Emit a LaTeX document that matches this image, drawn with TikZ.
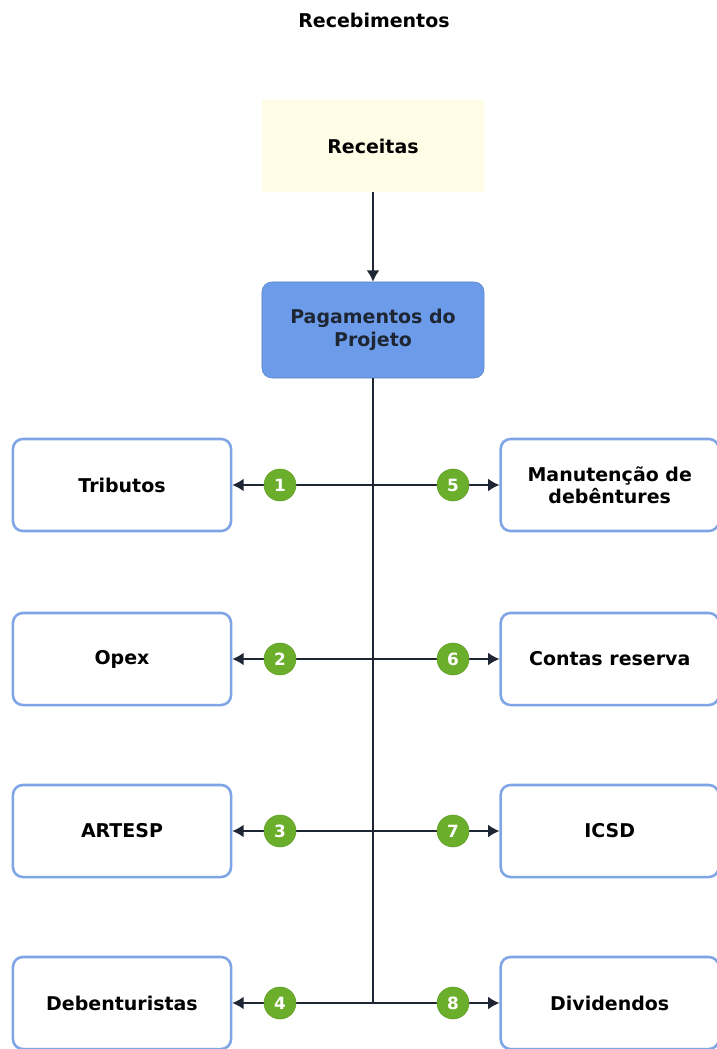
\documentclass[tikz,border=0pt]{standalone}
\usepackage{fontspec}
\setmainfont{DejaVu Sans}
\usepackage{tikz}
\usetikzlibrary{arrows.meta, positioning}
\definecolor{boxblue}{HTML}{7EA5E6}
\definecolor{projblue}{HTML}{6C9BEA}
\definecolor{recyellow}{HTML}{FFFDE6}
\definecolor{linenavy}{HTML}{1E2633}
\definecolor{stepgreen}{HTML}{6BAE2C}
\tikzset{
  outbox/.style={
    draw=boxblue, fill=white, rectangle, rounded corners=7pt,
    line width=1.8pt, minimum width=5.45cm, minimum height=2.3cm,
    align=center, font=\bfseries\fontsize{13.5}{16}\selectfont
  },
  recbox/.style={
    fill=recyellow, rectangle,
    minimum width=5.55cm, minimum height=2.3cm,
    align=center, font=\bfseries\fontsize{13.5}{16}\selectfont
  },
  projbox/.style={
    fill=projblue, draw=projblue!85!black, rectangle, rounded corners=7pt,
    minimum width=5.55cm, minimum height=2.4cm, text=linenavy,
    align=center, font=\bfseries\fontsize{13.5}{16}\selectfont
  },
  numdot/.style={
    circle, fill=stepgreen, draw=stepgreen!90!black, line width=0.4pt,
    minimum size=0.8cm, inner sep=0pt, text=white,
    font=\bfseries\fontsize{12}{13}\selectfont
  },
  flowline/.style={line width=1.1pt, color=linenavy},
  flowarrow/.style={-{Latex[length=8pt,width=9pt]}, line width=1.1pt, color=linenavy}
}

\begin{document}
\begin{tikzpicture}[x=0.025cm,y=-0.025cm]
\useasboundingbox (0,0) rectangle (716,1049);

\node[font=\bfseries\fontsize{13.5}{16}\selectfont] (title) at (374,20) {Recebimentos};
\node[recbox] (rec) at (373,146) {Receitas};
\node[projbox] (proj) at (373,330) {Pagamentos do\\Projeto};

% left column
\node[outbox] (trib) at (122,485)  {Tributos};
\node[outbox] (opex) at (122,659)  {Opex};
\node[outbox] (artesp) at (122,831) {ARTESP};
\node[outbox] (deb) at (122,1003) {Debenturistas};

% right column
\node[outbox, right=12.19cm of trib.center, anchor=center]   (manut)  {Manuten\c{c}\~ao de\\deb\^entures};
\node[outbox, right=12.19cm of opex.center, anchor=center]   (contas) {Contas reserva};
\node[outbox, right=12.19cm of artesp.center, anchor=center] (icsd)   {ICSD};
\node[outbox, right=12.19cm of deb.center, anchor=center]    (divid)  {Dividendos};

% trunk
\coordinate (t1) at (proj.south |- trib.east);
\coordinate (t2) at (proj.south |- opex.east);
\coordinate (t3) at (proj.south |- artesp.east);
\coordinate (t4) at (proj.south |- deb.east);
\draw[flowarrow] (rec.south) -- (proj.north);
\draw[flowline] (proj.south) -- (t4);

\draw[flowarrow] (t1) -- (trib.east);
\draw[flowarrow] (t2) -- (opex.east);
\draw[flowarrow] (t3) -- (artesp.east);
\draw[flowarrow] (t4) -- (deb.east);
\draw[flowarrow] (t1) -- (manut.west);
\draw[flowarrow] (t2) -- (contas.west);
\draw[flowarrow] (t3) -- (icsd.west);
\draw[flowarrow] (t4) -- (divid.west);

\node[numdot] (n1) at (280,485)  {1};
\node[numdot] (n2) at (280,659)  {2};
\node[numdot] (n3) at (280,831)  {3};
\node[numdot] (n4) at (280,1003) {4};
\node[numdot] (n5) at (453,485)  {5};
\node[numdot] (n6) at (453,659)  {6};
\node[numdot] (n7) at (453,831)  {7};
\node[numdot] (n8) at (453,1003) {8};
\end{tikzpicture}
\end{document}
